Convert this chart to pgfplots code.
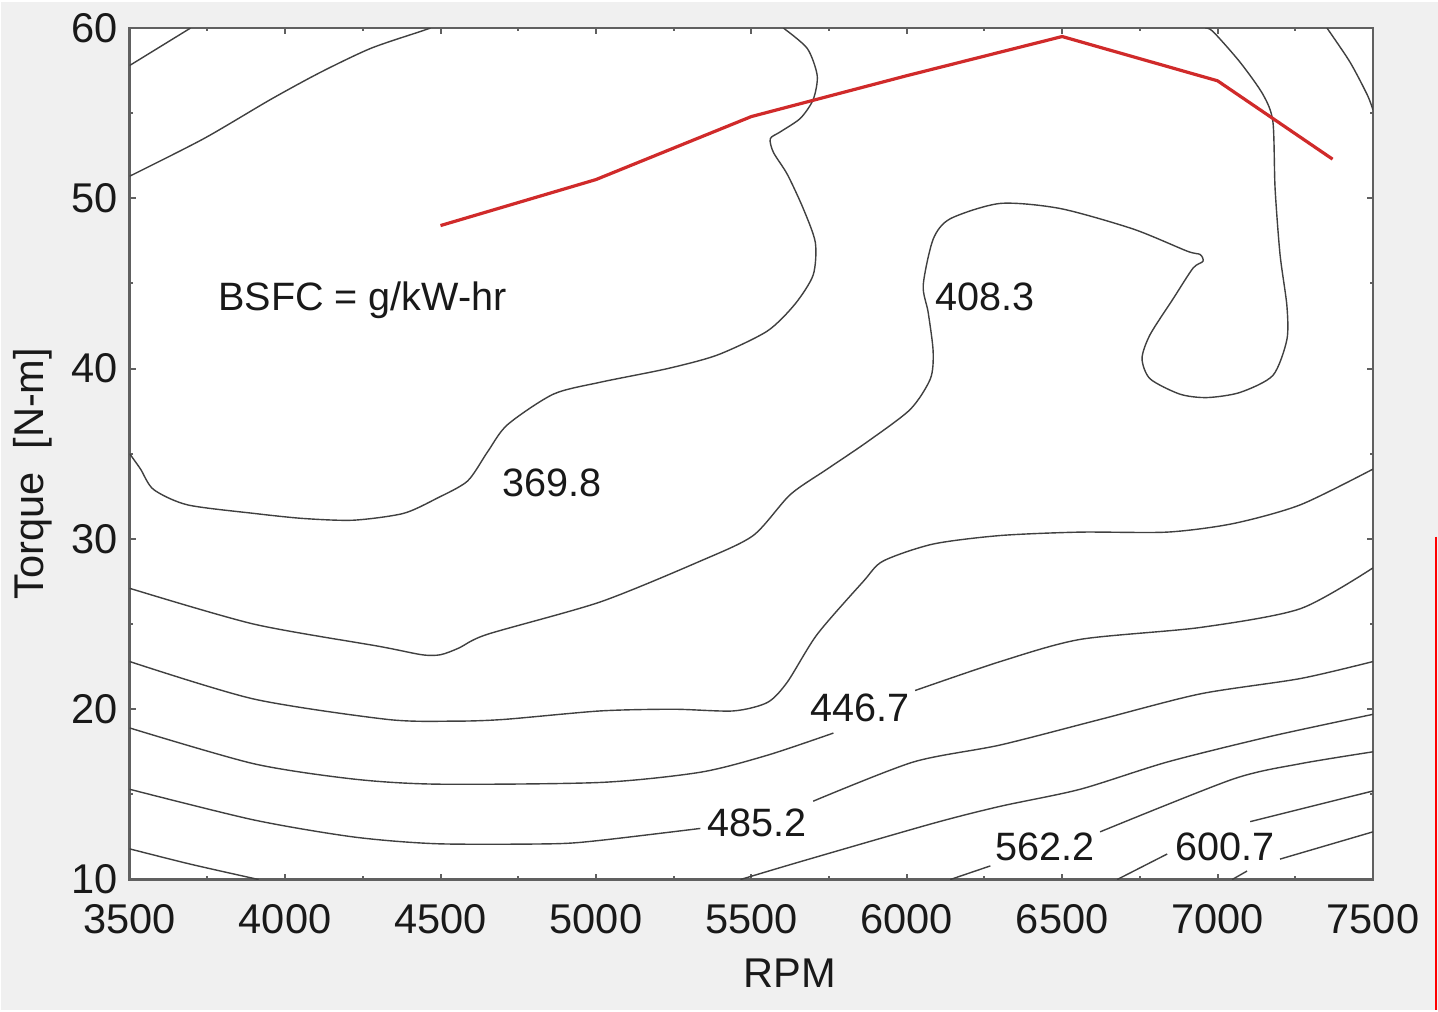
\documentclass[border=0pt]{standalone}
\usepackage{fontspec}
\setmainfont{Liberation Sans}
\usepackage{pgfplots}
\pgfplotsset{compat=1.18}
\usetikzlibrary{backgrounds}
\definecolor{bgcol}{HTML}{F0F0F0}
\definecolor{axcol}{HTML}{606060}
\definecolor{redline}{HTML}{D02A2A}
\begin{document}
\begin{tikzpicture}
\begin{axis}[
  scale only axis, width=311pt, height=213pt,
  xmin=3500, xmax=7500, ymin=10, ymax=60,
  xtick={3500,4000,...,7500}, ytick={10,20,...,60},
  minor xtick={3750,4250,...,7250}, minor ytick={15,25,...,55},
  tick align=inside, major tick length=1.5pt, minor tick length=0.8pt,
  axis line style={axcol, line width=0.6pt},
  every tick/.style={axcol, line width=0.5pt},
  axis background/.style={fill=white},
  /pgf/number format/assume math mode=true,
  /pgf/number format/set thousands separator={},
  ticklabel style={font=\fontsize{10.4}{12}\selectfont, text=black!90},
  xticklabel style={yshift=-2.6pt},
  yticklabel style={xshift=0.6pt},
  xlabel={RPM}, ylabel={Torque\ \ [N-m]},
  label style={font=\fontsize{10.4}{12}\selectfont, text=black!90},
  xlabel style={at={(axis description cs:0.531,-0.1103)}, anchor=center},
  ylabel style={at={(axis description cs:-0.078,0.4765)}, anchor=center, rotate=0},
  clip mode=individual,
  cl/.style={black!75, line width=0.35pt, solid, no markers, smooth, tension=0.45},
]
% background extent
\coordinate (bl) at (rel axis cs:-0.1037,-0.1538);
\coordinate (tr) at (rel axis cs:1.0523,1.0305);
% contour lines
\addplot[cl] coordinates {(3500,57.8) (3696,60)};
\addplot[cl] coordinates {(3500,51.3) (3738,53.5) (3953,55.8) (4114,57.4) (4275,58.8) (4436,59.8) (4468,60)};
\addplot[cl] coordinates {(7352,60) (7426,58.0) (7481,56.1) (7500,55.2)};
\addplot[cl] coordinates {(3500,35.0) (3535,34.1) (3577,32.9) (3686,32.0) (3899,31.5) (4059,31.2) (4220,31.1) (4381,31.5) (4490,32.4) (4587,33.4) (4651,35.1) (4715,36.7) (4863,38.5) (5014,39.2) (5230,40.0) (5391,40.8) (5551,42.2) (5641,43.8) (5699,45.5) (5706,47.4) (5667,49.4) (5616,51.4) (5571,52.7) (5561,53.5) (5593,53.9) (5658,54.7) (5699,55.8) (5712,57.2) (5680,58.8) (5603,60)};
\addplot[cl] coordinates {(3500,27.1) (3899,25.0) (4300,23.7) (4440,23.2) (4500,23.2) (4560,23.6) (4651,24.4) (5014,26.3) (5336,28.7) (5506,30.2) (5625,32.6) (5744,34.1) (5873,35.7) (6011,37.6) (6076,39.4) (6085,41.0) (6069,43.3) (6053,44.9) (6085,47.6) (6140,48.8) (6301,49.7) (6494,49.4) (6728,48.2) (6902,46.9) (6944,46.7) (6953,46.3) (6921,45.9) (6857,44.1) (6783,42.0) (6757,40.6) (6783,39.4) (6879,38.5) (6966,38.3) (7072,38.6) (7178,39.6) (7223,41.7) (7223,43.7) (7201,46.7) (7185,50.6) (7178,54.5) (7146,56.1) (7072,58.0) (6985,59.8) (6960,60)};
\addplot[cl] coordinates {(3500,22.8) (3899,20.6) (4330,19.4) (4542,19.3) (4703,19.4) (5014,19.9) (5249,20.0) (5442,19.9) (5552,20.4) (5616,21.6) (5712,24.4) (5860,27.5) (5924,28.7) (6085,29.7) (6301,30.2) (6558,30.4) (6838,30.4) (7050,30.9) (7266,32.0) (7500,34.1)};
\addplot[cl] coordinates {(3500,18.9) (3899,16.8) (4220,15.9) (4490,15.6) (5014,15.7) (5336,16.3) (5552,17.3) (5764,18.6)};
\addplot[cl] coordinates {(6027,21.1) (6301,22.8) (6558,24.1) (6944,24.8) (7266,25.9) (7500,28.3)};
\addplot[cl] coordinates {(3500,15.3) (3899,13.5) (4220,12.5) (4490,12.1) (4863,12.1) (5014,12.3) (5336,13.0)};
\addplot[cl] coordinates {(5699,14.6) (6021,16.9) (6301,17.9) (6622,19.4) (6944,20.9) (7266,21.8) (7500,22.8)};
\addplot[cl] coordinates {(3500,11.8) (3696,10.9) (3915,10.0)};
\addplot[cl] coordinates {(5465,10.0) (5658,11.05) (6085,13.3) (6301,14.3) (6558,15.3) (6838,16.9) (7169,18.4) (7500,19.7)};
\addplot[cl] coordinates {(6140,10.0) (6269,10.8)};
\addplot[cl] coordinates {(6622,12.8) (7050,15.9) (7266,16.8) (7500,17.5)};
\addplot[cl] coordinates {(6677,10.0) (6838,11.5)};
\addplot[cl] coordinates {(7105,13.4) (7500,15.2)};
\addplot[cl] coordinates {(7047,10.0) (7095,10.5)};
\addplot[cl] coordinates {(7201,11.2) (7500,12.8)};
% max torque curve
\addplot[redline, line width=0.8pt, solid, no markers, sharp plot] coordinates {(4500,48.4) (5000,51.1) (5500,54.8) (6000,57.2) (6500,59.5) (7000,56.9) (7370,52.3)};
% labels
\begin{scope}[every node/.style={font=\fontsize{9.9}{12}\selectfont, text=black!90, inner sep=0pt}]
\node at (axis cs:4860,33.3) {369.8};
\node at (axis cs:6252,44.2) {408.3};
\node at (axis cs:5850,20.1) {446.7};
\node at (axis cs:5519,13.3) {485.2};
\node at (axis cs:6445,11.9) {562.2};
\node at (axis cs:7024,11.9) {600.7};
\node at (axis cs:4249,44.0) {BSFC = g/kW-hr};
\end{scope}
\draw[red, line width=0.6pt] (rel axis cs:1.0506,0.4026) -- (rel axis cs:1.0506,-0.1538);
\end{axis}
\begin{scope}[on background layer]
\fill[bgcol] (bl) rectangle (tr);
\end{scope}
\end{tikzpicture}
\end{document}
